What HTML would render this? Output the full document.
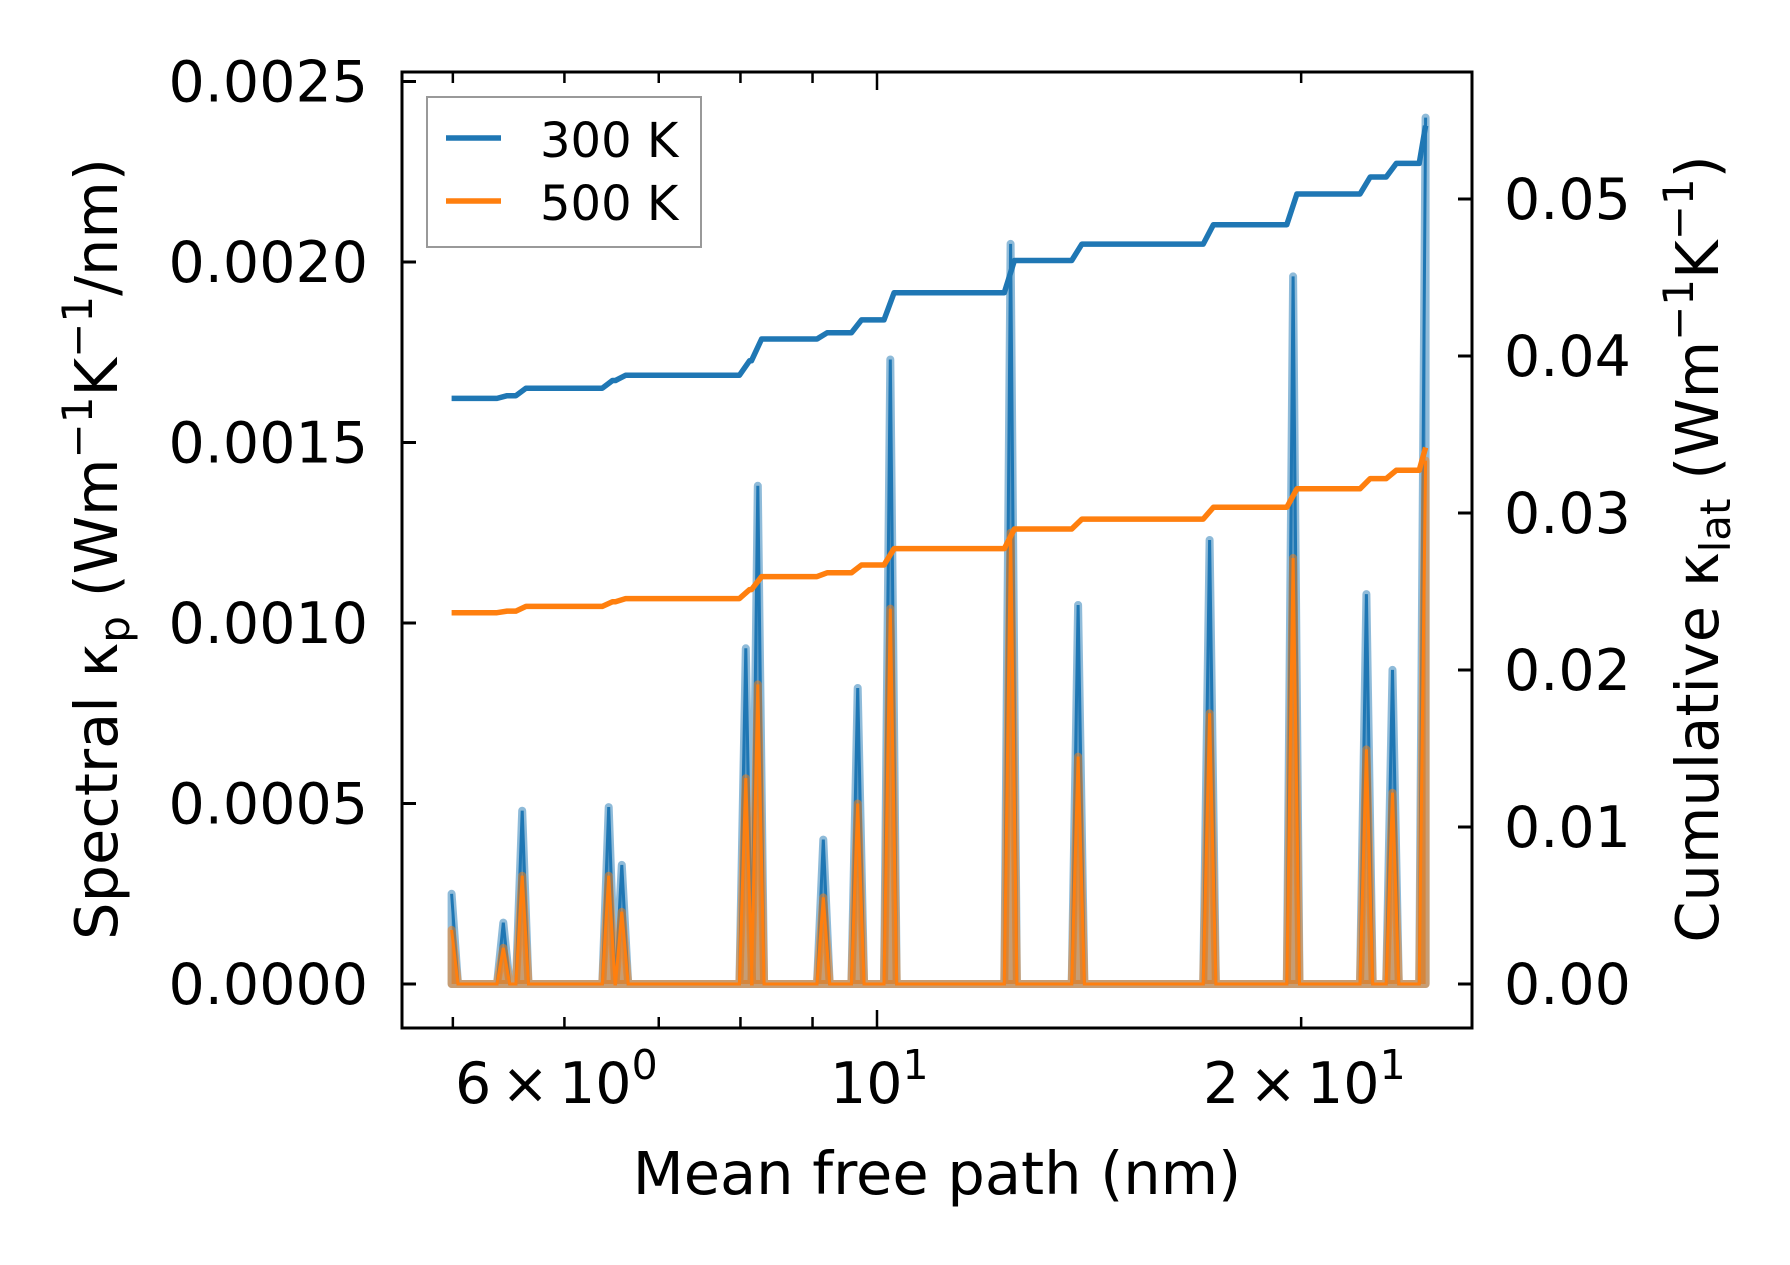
<!DOCTYPE html>
<html><head><meta charset="utf-8"><style>
html,body{margin:0;padding:0;background:#fff;}
svg{display:block;font-family:"DejaVu Sans","Liberation Sans",sans-serif;}
</style></head><body>
<svg id="chart" width="1790" height="1265" viewBox="0 0 1790 1265" xmlns="http://www.w3.org/2000/svg">
<rect width="1790" height="1265" fill="#fff"/>
<g id="marks"></g>
<g id="axes"></g>
</svg>
<script>
const mfp = [4.99,5.43,5.60,6.45,6.59,8.07,8.23,9.16,9.69,10.22,12.44,13.89,17.22,19.74,22.25,23.22,24.51];
const spec300 = [0.00025,0.00017,0.00048,0.00049,0.00033,0.00093,0.00138,0.00040,0.00082,0.00173,0.00205,0.00105,0.00123,0.00196,0.00108,0.00087,0.00240];
const spec500 = [0.00015,0.00010,0.00030,0.00030,0.00020,0.00057,0.00083,0.00024,0.00050,0.00104,0.00125,0.00063,0.00075,0.00118,0.00065,0.00053,0.00145];
const cumStart300 = 0.0373;
const cumStart500 = 0.02365;
const leftTicks = [0,0.0005,0.001,0.0015,0.002,0.0025];
const leftTickLabels = ["0.0000","0.0005","0.0010","0.0015","0.0020","0.0025"];
const rightTicks = [0,0.01,0.02,0.03,0.04,0.05];
const rightTickLabels = ["0.00","0.01","0.02","0.03","0.04","0.05"];
const xMajor = [6,10,20];
const xMinor = [5,7,8,9];

const NS="http://www.w3.org/2000/svg";
const L=402,R=1472,T=72,B=1028;
function xs(v){return 877+1409*Math.log10(v/10);}
function yl(v){return 984-v/0.0005*180.5;}
function yr(v){return 984-v/0.01*157;}
function mk(tag,attrs,parent){const e=document.createElementNS(NS,tag);for(const k in attrs)e.setAttribute(k,attrs[k]);parent.appendChild(e);return e;}
const marks=document.getElementById('marks'), axes=document.getElementById('axes');
const dl=0.0045;
const n=mfp.length;
function spikePts(vals){
  let pts=[];
  mfp.forEach((m,i)=>{
    const a=m*Math.pow(10,-dl),b=m*Math.pow(10,dl);
    if(i>0)pts.push([xs(a),yl(0)]);
    pts.push([xs(m),yl(vals[i])]);
    if(i<n-1)pts.push([xs(b),yl(0)]);
  });
  return pts;
}
function drawSpec(vals,color,name){
  const pts=spikePts(vals);
  const s=pts.map(p=>p[0].toFixed(1)+','+p[1].toFixed(1)).join(' ');
  const poly=s+' '+xs(mfp[n-1]).toFixed(1)+','+yl(0)+' '+xs(mfp[0]).toFixed(1)+','+yl(0);
  const g=mk('g',{},marks);
  
  
  const f=mk('polygon',{points:poly,fill:color,'fill-opacity':0.5,stroke:color,'stroke-opacity':0.5,'stroke-width':8,'stroke-linejoin':'round'},g);
  
  
  const l=mk('polyline',{points:s,fill:'none',stroke:color,'stroke-width':3},g);
  
  
}
function drawCum(start,vals,color,name){
  let c=start+vals[0];let pts=[[xs(mfp[0]),yr(c)]];
  mfp.forEach((m,i)=>{
    if(i===0)return;
    const a=m*Math.pow(10,-dl),b=m*Math.pow(10,dl*0.6);
    pts.push([xs(a),yr(c)]);
    c+=vals[i];
    pts.push([xs(Math.min(b,mfp[n-1])),yr(c)]);
  });
  const s=pts.map(p=>p[0].toFixed(1)+','+p[1].toFixed(1)).join(' ');
  const l=mk('polyline',{points:s,fill:'none',stroke:color,'stroke-width':5.5,'stroke-linejoin':'round'},marks);
  
  
}
drawSpec(spec300,'#1f77b4','spectral-300k');
drawSpec(spec500,'#ff7f0e','spectral-500k');
drawCum(cumStart300-spec300[0],spec300,'#1f77b4','cumulative-300k');
drawCum(cumStart500-spec500[0],spec500,'#ff7f0e','cumulative-500k');

const fr=mk('rect',{x:L,y:T,width:R-L,height:B-T,fill:'none',stroke:'#000','stroke-width':3},axes);


leftTicks.forEach((v,i)=>{
  const y=yl(v);
  const t=mk('line',{x1:L,x2:L+14,y1:y,y2:y,stroke:'#000','stroke-width':3},axes);
  
  
  const tx=mk('text',{x:368,y:y+20,'font-size':57,'text-anchor':'end',fill:'#000'},axes);
  tx.textContent=leftTickLabels[i];
  
  
});
rightTicks.forEach((v,i)=>{
  const y=yr(v);
  const t=mk('line',{x1:R-14,x2:R,y1:y,y2:y,stroke:'#000','stroke-width':3},axes);
  
  
  const tx=mk('text',{x:1504,y:y+20,'font-size':57,fill:'#000'},axes);
  tx.textContent=rightTickLabels[i];
  
  
});
xMajor.concat(xMinor).forEach(v=>{
  const x=xs(v),len=(v===10)?18:11;
  [[B,B-len],[T,T+len]].forEach(p=>{
    const t=mk('line',{x1:x,x2:x,y1:p[0],y2:p[1],stroke:'#000','stroke-width':2.5},axes);
    
    
  });
});
</script>
<div style="position:absolute;left:0;top:0;width:1790px;height:1265px;pointer-events:none">
<svg width="1790" height="1265" style="font-family:'DejaVu Sans','Liberation Sans',sans-serif">
<g font-size="57" fill="#000">
<text x="455" y="1103">6<tspan dx="10">×</tspan><tspan dx="10">10</tspan><tspan dy="-24" font-size="41">0</tspan></text>
<text x="830" y="1103">10<tspan dy="-24" font-size="41">1</tspan></text>
<text x="1203" y="1103">2<tspan dx="10">×</tspan><tspan dx="10">10</tspan><tspan dy="-24" font-size="41">1</tspan></text>
</g>
<text x="937" y="1194" font-size="59" text-anchor="middle">Mean free path (nm)</text>
<text transform="translate(117,549) rotate(-90)" font-size="59" text-anchor="middle">Spectral κ<tspan dy="12" font-size="42">p</tspan><tspan dy="-12"> (Wm</tspan><tspan dy="-25" font-size="42">−1</tspan><tspan dy="25">K</tspan><tspan dy="-25" font-size="42">−1</tspan><tspan dy="25">/nm)</tspan></text>
<text transform="translate(1718,549) rotate(-90)" font-size="59" text-anchor="middle">Cumulative κ<tspan dy="12" font-size="42">lat</tspan><tspan dy="-12"> (Wm</tspan><tspan dy="-25" font-size="42">−1</tspan><tspan dy="25">K</tspan><tspan dy="-25" font-size="42">−1</tspan><tspan dy="25">)</tspan></text>
<g>
<rect x="427" y="97" width="274" height="150" fill="#fff" fill-opacity="0.8" stroke="#999" stroke-width="2"/>
<line x1="446" x2="501" y1="138" y2="138" stroke="#1f77b4" stroke-width="5.5"/>
<text x="540" y="157" font-size="48">300 K</text>
<line x1="446" x2="501" y1="201" y2="201" stroke="#ff7f0e" stroke-width="5.5"/>
<text x="540" y="220" font-size="48">500 K</text>
</g>
</svg></div>
</body></html>
